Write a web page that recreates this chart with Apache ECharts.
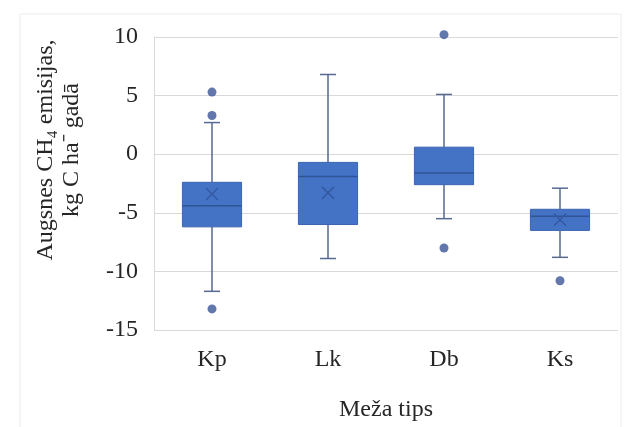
<!DOCTYPE html>
<html>
<head>
<meta charset="utf-8">
<script src="https://cdn.jsdelivr.net/npm/echarts@6/dist/echarts.min.js"></script>
<style>
  html, body { margin: 0; padding: 0; background: #fff; }
  #chart { width: 624px; height: 427px; }
</style>
</head>
<body>
<div id="chart"></div>
<script>
// meža tipi un emisiju sadalījums (nolasīts no attēla)
var categories = ["Kp", "Lk", "Db", "Ks"];
var whiskerLow = [-11.7, -8.9, -5.5, -8.8];
var quart1 = [-6.2, -6.0, -2.6, -6.5];
var medians = [-4.4, -1.9, -1.6, -5.3];
var quart3 = [-2.4, -0.7, 0.6, -4.7];
var whiskerHigh = [2.7, 6.8, 5.1, -2.9];
var means = [-3.4, -3.3, null, -5.6];
var outlierCat = [0, 0, 0, 2, 2, 3];
var outlierVal = [5.3, 3.3, -13.2, 10.2, -8.0, -10.8];
var yTicks = [-15, -10, -5, 0, 5, 10];

var font = "Liberation Serif, Times New Roman, serif";

var boxData = categories.map(function (c, i) {
  return [i, whiskerLow[i], quart1[i], medians[i], quart3[i], whiskerHigh[i], means[i] == null ? NaN : means[i]];
});
var outlierData = outlierCat.map(function (c, i) {
  return [c, outlierVal[i]];
});

function renderBox(params, api) {
  var i = api.value(0);
  var x = api.coord([i, 0])[0];
  var y = function (v) { return api.coord([i, v])[1]; };
  var half = api.size([1, 0])[0] * 0.255;
  var cap = 8;
  var whisk = { stroke: "#56698f", lineWidth: 1.5 };
  var kids = [
    { type: "line", shape: { x1: x, y1: y(api.value(1)), x2: x, y2: y(api.value(2)) }, style: whisk },
    { type: "line", shape: { x1: x, y1: y(api.value(4)), x2: x, y2: y(api.value(5)) }, style: whisk },
    { type: "line", shape: { x1: x - cap, y1: y(api.value(1)), x2: x + cap, y2: y(api.value(1)) }, style: whisk },
    { type: "line", shape: { x1: x - cap, y1: y(api.value(5)), x2: x + cap, y2: y(api.value(5)) }, style: whisk },
    {
      type: "rect",
      shape: { x: x - half, y: y(api.value(4)), width: half * 2, height: y(api.value(2)) - y(api.value(4)) },
      style: { fill: "#4472c4", stroke: "#3a63b0", lineWidth: 1 }
    },
    { type: "line", shape: { x1: x - half, y1: y(api.value(3)), x2: x + half, y2: y(api.value(3)) }, style: { stroke: "#2f5597", lineWidth: 1.5 } }
  ];
  var m = api.value(6);
  if (!isNaN(m)) {
    var ym = y(m), s = 6;
    kids.push({ type: "line", shape: { x1: x - s, y1: ym - s, x2: x + s, y2: ym + s }, style: { stroke: "#3459a3", lineWidth: 1.5 } });
    kids.push({ type: "line", shape: { x1: x - s, y1: ym + s, x2: x + s, y2: ym - s }, style: { stroke: "#3459a3", lineWidth: 1.5 } });
  }
  return { type: "group", children: kids };
}

var chart = echarts.init(document.getElementById("chart"));
var option = {
  backgroundColor: "#fff",
  animation: false,
  grid: { left: 154, right: 6, top: 37, bottom: 97 },
  graphic: [
    {
      type: "rect",
      shape: { x: 20, y: 14, width: 601, height: 430 },
      style: { fill: "none", stroke: "#ececec", lineWidth: 1 },
      z: -1
    },
    {
      type: "text",
      x: 59,
      y: 150,
      rotation: Math.PI / 2,
      style: {
        text: "Augsnes CH\u2084 emisijas,\nkg C ha\u207b gad\u0101",
        font: "24px " + font,
        fill: "#262626",
        align: "center",
        verticalAlign: "middle",
        lineHeight: 26
      }
    }
  ],
  xAxis: {
    type: "category",
    data: categories,
    name: "Meža tips",
    nameLocation: "middle",
    nameGap: 68,
    nameTextStyle: { fontFamily: font, fontSize: 24, color: "#262626" },
    axisLine: { show: true, lineStyle: { color: "#d9d9d9" } },
    axisTick: { show: false },
    axisLabel: { fontFamily: font, fontSize: 24, color: "#262626", margin: 18 }
  },
  yAxis: {
    type: "value",
    min: yTicks[0],
    max: yTicks[yTicks.length - 1],
    interval: 5,
    axisLine: { show: true, lineStyle: { color: "#d9d9d9" } },
    axisTick: { show: false },
    splitLine: { show: true, lineStyle: { color: "#d9d9d9", width: 1 } },
    axisLabel: { fontFamily: font, fontSize: 24, color: "#262626", margin: 16 }
  },
  series: [
    {
      type: "custom",
      renderItem: renderBox,
      data: boxData,
      encode: { x: 0, y: [1, 2, 3, 4, 5] },
      z: 2
    },
    {
      type: "scatter",
      data: outlierData,
      clip: false,
      symbol: "circle",
      symbolSize: 9,
      itemStyle: { color: "#3b5596" },
      z: 3
    }
  ]
};
chart.setOption(option);
</script>
</body>
</html>
